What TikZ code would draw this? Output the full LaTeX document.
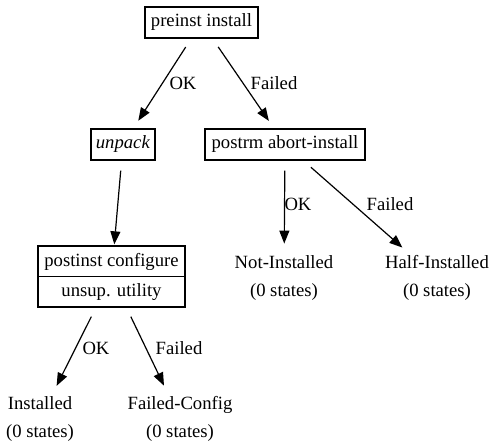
\documentclass[tikz,border=0pt]{standalone}
\usepackage{fontspec}
\setmainfont{LiberationSerif}[Extension=.ttf, UprightFont=*-Regular, ItalicFont=*-Italic, BoldFont=*-Bold]
\usetikzlibrary{arrows.meta}
\begin{document}
\begin{tikzpicture}[x=1pt,y=-1pt,
  every node/.style={font=\rmfamily\fontsize{18.67}{27.5}\selectfont, inner sep=0pt},
  box/.style={draw, line width=1.3pt, minimum height=31pt},
  state/.style={align=center, inner sep=0pt},
  lbl/.style={},
  flow/.style={line width=1.2pt, -{Triangle[length=13pt,width=10pt]},
               shorten <=10pt, shorten >=9pt},
  flowtxt/.style={flow, shorten >=12pt}]
\useasboundingbox (0,0) rectangle (493,441);

% maintainer-script steps
\node[box, minimum width=113pt] (pre)   at (201.5,22.5) {preinst install};
\node[box, minimum width=64pt]  (unp)   at (123,144.5)  {\textit{unpack}};
\node[box, minimum width=160pt] (abort) at (285,144.5)  {postrm abort-install};

% two-field record: postinst configure / unsup. utility
\node[box, minimum width=147pt, minimum height=61pt] (cfg) at (111.5,276.5) {};
\draw[line width=1.5pt] (cfg.west) -- (cfg.east);
\node (cfgA) at (111.5,262) {postinst configure};
\node (cfgB) at (111.5,292) {unsup. utility};

% final package states
\node[state] (ni)   at (284,278)   {Not-Installed\\(0 states)};
\node[state] (hi)   at (437,278)   {Half-Installed\\(0 states)};
\node[state] (inst) at (40,419)    {Installed\\(0 states)};
\node[state] (fc)   at (180,419)   {Failed-Config\\(0 states)};

% transitions
\draw[flow] (pre) -- (unp);
\draw[flow] (pre) -- (abort);
\draw[flow, shorten >=1pt] (unp) -- (cfg);
\draw[flowtxt] (abort) -- (ni);
\draw[flowtxt] (abort) -- (hi);
\draw[flowtxt] (cfg) -- (inst);
\draw[flowtxt] (cfg) -- (fc);

% transition labels
\node[lbl] (l1) at (183,83)  {OK};
\node[lbl] (l2) at (274,83)  {Failed};
\node[lbl] (l3) at (298,204) {OK};
\node[lbl] (l4) at (390,204) {Failed};
\node[lbl] (l5) at (96,348)  {OK};
\node[lbl] (l6) at (179,348) {Failed};
\end{tikzpicture}
\end{document}
